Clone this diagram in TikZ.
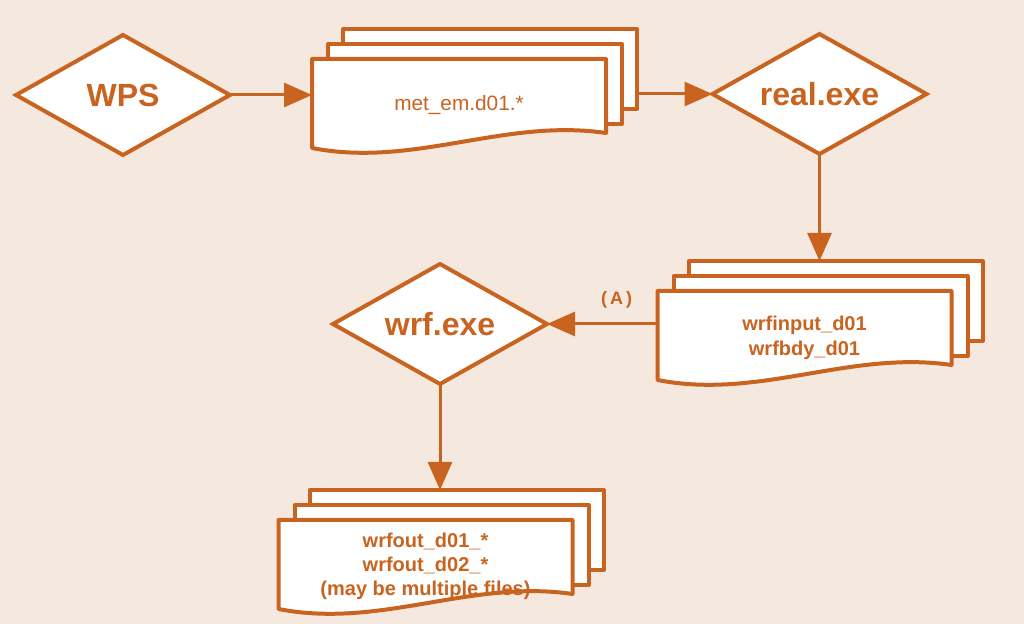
\documentclass[tikz,border=0pt]{standalone}
\usepackage{fontspec}
\setmainfont{Liberation Sans}
\usepackage{tikz}
\usetikzlibrary{arrows.meta, shapes.geometric, positioning, backgrounds}
\definecolor{wrfOrange}{RGB}{200,100,32}
\definecolor{wrfPage}{RGB}{245,233,223}
\tikzset{
  prog/.style={diamond, aspect=1.8, draw=wrfOrange, fill=white, line width=2pt, inner sep=0pt,
    outer sep=0pt, minimum width=107pt, minimum height=60pt, text=wrfOrange,
    font=\fontsize{16}{19}\selectfont\bfseries},
  docfront/.style={rectangle, minimum width=147pt, minimum height=46.5pt, inner sep=0pt,
    outer sep=0pt, align=center, text=wrfOrange},
  paper/.style={rectangle, draw=wrfOrange, fill=white, line width=2pt, line join=round,
    minimum width=147pt, minimum height=40pt, inner sep=0pt, outer sep=0pt, anchor=north west},
  flow/.style={->, draw=wrfOrange, line width=1.5pt},
}
% three stacked sheets behind a front node, bottom edge wavy
\newcommand{\docstack}[1]{%
  \begin{pgfonlayer}{background}
    \node[paper] (#1b) at ([shift={(15.5pt,15pt)}]#1.north west) {};
    \node[paper] (#1m) at ([shift={(8pt,7.5pt)}]#1.north west) {};
    \draw[draw=wrfOrange, fill=white, line width=2pt, line join=round]
      (#1.north west) -- (#1.north east) -- ([yshift=9.5pt]#1.south east)
      .. controls +(-51pt,7.5pt) and +(51pt,-10pt) .. ([yshift=2pt]#1.south west) -- cycle;
  \end{pgfonlayer}}

\begin{document}
\begin{tikzpicture}[>={Triangle[length=14pt,width=12pt]}]
\useasboundingbox (0,0) rectangle (512pt,-312pt);
\begin{pgfonlayer}{background}
  \fill[wrfPage] (0,0) rectangle (512pt,-312pt);
\end{pgfonlayer}

% programs and their files
\node[prog] (wps) at (61.5pt,-47.5pt) {WPS};
\node[docfront, right=41pt of wps, yshift=-5.25pt, font=\fontsize{10.4}{12.5}\selectfont] (metem) {met\_em.d01.*};
\docstack{metem}
\node[prog, right=53.25pt of metem, yshift=5.75pt] (real) {real.exe};
\node[docfront, below=68.5pt of real, xshift=-7.5pt, font=\fontsize{10}{12.5}\selectfont\bfseries] (inp) {wrfinput\_d01\\wrfbdy\_d01};
\docstack{inp}
\node[prog, left=55.25pt of inp, yshift=6.75pt] (wrf) {wrf.exe};
\node[docfront, below=68pt of wrf, xshift=-7.25pt, font=\fontsize{10}{12}\selectfont\bfseries] (out) {wrfout\_d01\_*\\wrfout\_d02\_*\\(may be multiple files)};
\docstack{out}

% connectors
\draw[flow] (wps.east) -- (metem.west |- wps.east);
\draw[flow] (metemb.east |- real.west) -- (real.west);
\draw[flow] (real.south) -- (real.south |- inpb.north);
\draw[flow] (inp.west |- wrf.east) -- node[pos=0.37, above=4pt, text=wrfOrange, font=\fontsize{9}{11}\selectfont\bfseries]{(\,A\,)} (wrf.east);
\draw[flow] (wrf.south) -- (wrf.south |- outb.north);
\end{tikzpicture}
\end{document}
